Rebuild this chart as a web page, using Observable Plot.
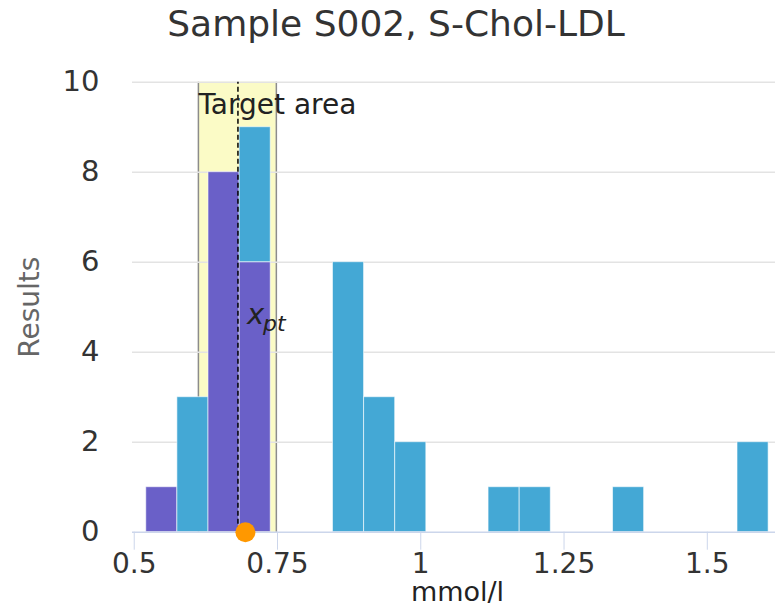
<!DOCTYPE html>
<html>
<head>
<meta charset="utf-8">
<script src="https://cdn.jsdelivr.net/npm/d3@7"></script>
<script src="https://cdn.jsdelivr.net/npm/@observablehq/plot@0.6"></script>
<style>
  html, body { margin: 0; padding: 0; background: white; }
  #title { height: 55px; box-sizing: border-box; padding-top: 6px; padding-left: 17px;
    font: 36px "DejaVu Sans", sans-serif; line-height: 36px; color: #333; text-align: center; }
  #chart svg { display: block; }
</style>
</head>
<body>
<div id="title">Sample S002, S-Chol-LDL</div>
<div id="chart"></div>
<script>
// ---- data ----
const binStart = 0.521;
const binWidth = 0.0543;
const purpleCounts = [1, 0, 8, 6, 0, 0, 0, 0, 0, 0, 0, 0, 0, 0, 0, 0, 0, 0, 0, 0];
const blueCounts   = [0, 3, 0, 3, 0, 0, 6, 3, 2, 0, 0, 1, 1, 0, 0, 1, 0, 0, 0, 2];
const targetLo = 0.612;
const targetHi = 0.748;
const xpt = 0.681;
const resultValue = 0.694;
const xTicks = [0.5, 0.75, 1, 1.25, 1.5];
const xTickLabels = ["0.5", "0.75", "1", "1.25", "1.5"];
const yTicks = [0, 2, 4, 6, 8, 10];

const purple = "#6a60c8";
const blue = "#44a8d5";

const rows = [];
purpleCounts.forEach((p, i) => {
  const b = blueCounts[i];
  const x1 = binStart + i * binWidth, x2 = binStart + (i + 1) * binWidth;
  if (p > 0) rows.push({x1, x2, y1: 0, y2: p, fill: purple});
  if (b > 0) rows.push({x1, x2, y1: p, y2: p + b, fill: blue});
});

const chart = Plot.plot({
  width: 775,
  height: 560,
  marginLeft: 132,
  marginRight: 0,
  marginTop: 26.7,
  marginBottom: 83.3,
  x: {domain: [0.497, 1.619]},
  y: {domain: [0, 10]},
  style: {fontFamily: "DejaVu Sans", background: "white", color: "#333"},
  marks: [
    Plot.rect([{lo: targetLo, hi: targetHi}], {x1: "lo", x2: "hi", y1: 0, y2: 10, fill: "#fbfbc6"}),
    Plot.ruleX([targetLo, targetHi], {y1: 0, y2: 10, stroke: "#8c8c8c", strokeWidth: 1.5}),
    Plot.ruleY(yTicks.filter(d => d > 0), {stroke: "#e3e3e3", strokeWidth: 1.5}),
    Plot.rect(rows, {x1: "x1", x2: "x2", y1: "y1", y2: "y2", fill: "fill", stroke: "white", strokeOpacity: 0.6, strokeWidth: 1}),
    Plot.ruleX([xpt], {y1: 0, y2: 10, stroke: "black", strokeWidth: 1.5, strokeDasharray: "5,3"}),
    Plot.ruleY([0], {stroke: "#ccd6eb", strokeWidth: 1.5}),
    Plot.axisX({ticks: xTicks, tickFormat: (d, i) => xTickLabels[i], tickSize: 18, tickPadding: 3,
      fontSize: 28, stroke: "#ccd6eb", fill: "#333", label: null}),
    Plot.axisY({ticks: yTicks, tickSize: 0, tickPadding: 33, fontSize: 29, fill: "#333", label: null}),
    Plot.text(["Target area"], {x: targetLo, y: 10, text: d => d, textAnchor: "start", lineAnchor: "top",
      dy: 12, fontSize: 28, fill: "#222"}),
    Plot.text(["x"], {x: xpt, y: 4.83, text: d => d, textAnchor: "start", dx: 9, fontSize: 29,
      fontStyle: "italic", fill: "#222"}),
    Plot.text(["pt"], {x: xpt, y: 4.83, text: d => d, textAnchor: "start", dx: 25, dy: 9, fontSize: 22,
      fontStyle: "italic", fill: "#222"}),
    Plot.dot([resultValue], {x: d => d, y: 0, r: 10, fill: "#ff9800"}),
    Plot.text(["Results"], {frameAnchor: "left", text: d => d, rotate: -90, textAnchor: "middle",
      lineAnchor: "middle", dx: -102, fontSize: 28, fill: "#666"}),
    Plot.text(["mmol/l"], {frameAnchor: "bottom", text: d => d, textAnchor: "middle", lineAnchor: "bottom",
      dx: 3.5, dy: 69, fontSize: 27, fill: "#222"})
  ]
});
document.getElementById("chart").appendChild(chart);
</script>
</body>
</html>
